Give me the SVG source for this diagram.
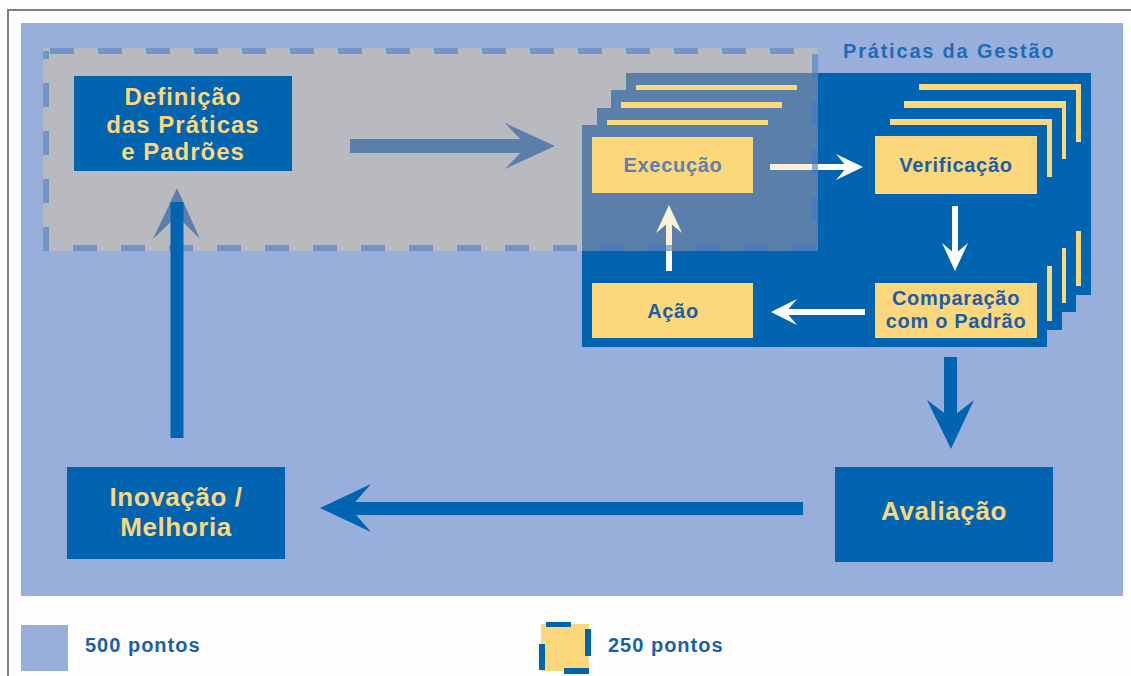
<svg xmlns="http://www.w3.org/2000/svg" width="1131" height="676" viewBox="0 0 1131 676">
  <style>
    .panel { fill: #98afdb; }
    .dark { fill: #0064b0; }
    .ybox { fill: #fcd77b; }
    .warrow { fill: #ffffff; }
    .carrow { fill: #fbf1d6; }
    .barrow { fill: #0064b0; }
    .sarrow { fill: #5b7fab; }
    .ylabel { font-family: "Liberation Sans", Arial, sans-serif; font-weight: bold; fill: #fcd77b; text-anchor: middle; }
    .blabel { font-family: "Liberation Sans", Arial, sans-serif; font-weight: bold; fill: #1b5ea9; text-anchor: middle; font-size: 20px; letter-spacing: 0.7px; }
    .legend { font-family: "Liberation Sans", Arial, sans-serif; font-weight: bold; fill: #1b5ea9; font-size: 20px; letter-spacing: 1px; }
  </style>
  <defs>
    <!-- one card of the stacked management-practice cycle; card colour comes from the <use> -->
    <g id="card">
      <rect x="0" y="0" width="465" height="222"/>
      <rect class="ybox" x="10" y="12" width="161" height="56"/>
      <rect class="ybox" x="293" y="11" width="162" height="58"/>
      <rect class="ybox" x="293" y="158" width="162" height="55"/>
      <rect class="ybox" x="10" y="158" width="161" height="55"/>
    </g>
    <clipPath id="area250">
      <rect x="43" y="48" width="775" height="203"/>
    </clipPath>
  </defs>

  <!-- page background and frame -->
  <rect x="0" y="0" width="1131" height="676" fill="#fdfdfd"/>
  <path d="M8,676 V10 H1131" fill="none" stroke="#808080" stroke-width="2"/>

  <!-- 500-point panel -->
  <rect class="panel" x="21" y="23" width="1102" height="573"/>

  <!-- 250-point field -->
  <rect x="43" y="48" width="775" height="203" fill="#b9babf"/>

  <!-- stacked cards, back to front -->
  <g id="pratica-cards" fill="#0064b0">
    <use href="#card" x="626" y="73"/>
    <use href="#card" x="611" y="90"/>
    <use href="#card" x="597" y="108"/>
    <use href="#card" x="582" y="125"/>
  </g>

  <g id="connectors-inner">
    <!-- Execução -> Verificação -->
    <rect class="warrow" x="770" y="164" width="82" height="6"/>
    <path class="warrow" d="M863,167 L836,154 L847,167 L836,180 Z"/>
    <!-- Verificação -> Comparação -->
    <rect class="warrow" x="952" y="206" width="6" height="53"/>
    <path class="warrow" d="M955,271 L942,243 L955,254 L968,243 Z"/>
    <!-- Comparação -> Ação -->
    <rect class="warrow" x="781" y="309" width="84" height="6"/>
    <path class="warrow" d="M771,312 L797,299 L786,312 L797,325 Z"/>
    <!-- Ação -> Execução -->
    <rect class="warrow" x="666" y="217" width="6" height="54"/>
    <path class="warrow" d="M669,205 L656,233 L669,222 L682,233 Z"/>
  </g>

  <!-- part of the cards lying inside the 250-point field, in its muted tones -->
  <g id="cards-in-area" clip-path="url(#area250)">
    <g fill="#5b7fab">
      <use href="#card" x="626" y="73"/>
      <use href="#card" x="611" y="90"/>
      <use href="#card" x="597" y="108"/>
      <use href="#card" x="582" y="125"/>
    </g>
    <rect class="carrow" x="770" y="164" width="82" height="6"/>
    <rect class="carrow" x="666" y="217" width="6" height="54"/>
    <path class="carrow" d="M669,205 L656,233 L669,222 L682,233 Z"/>
  </g>

  <g id="execucao">
    <text class="blabel" x="673" y="172" style="fill:#5d80ad">Execução</text>
  </g>
  <g id="verificacao">
    <text class="blabel" x="956" y="172">Verificação</text>
  </g>
  <g id="comparacao">
    <text class="blabel" x="956" y="305">Comparação</text>
    <text class="blabel" x="956" y="328">com o Padrão</text>
  </g>
  <g id="acao">
    <text class="blabel" x="673" y="318">Ação</text>
  </g>

  <g id="connectors-area">
    <!-- Definição -> cycle -->
    <rect class="sarrow" x="350" y="139" width="185" height="14"/>
    <path class="sarrow" d="M555,146 L505,123 L527,146 L505,169 Z"/>
    <!-- head of Inovação -> Definição -->
    <path class="sarrow" d="M177,188 L153,239 L177,216 L200,239 Z"/>
  </g>

  <!-- dashed border of the 250-point field -->
  <rect x="46" y="51" width="769" height="197" fill="none" stroke="#3a76cc" stroke-opacity="0.55" stroke-width="6" stroke-dasharray="24 24" stroke-dashoffset="-4"/>

  <g id="definicao">
    <rect class="dark" x="74" y="76" width="218" height="95"/>
    <text class="ylabel" x="183" y="105" font-size="24" letter-spacing="1">Definição</text>
    <text class="ylabel" x="183" y="133" font-size="24" letter-spacing="1">das Práticas</text>
    <text class="ylabel" x="183" y="160" font-size="24" letter-spacing="1">e Padrões</text>
  </g>

  <g id="connectors">
    <!-- shaft of Inovação -> Definição -->
    <rect class="barrow" x="170.5" y="202" width="13" height="236"/>
    <!-- cycle -> Avaliação -->
    <rect class="barrow" x="944" y="357" width="13" height="68"/>
    <path class="barrow" d="M951,449 L927,400 L951,418 L974,400 Z"/>
    <!-- Avaliação -> Inovação -->
    <rect class="barrow" x="343" y="502" width="460" height="13"/>
    <path class="barrow" d="M320,508 L371,484 L350,508 L371,532 Z"/>
  </g>

  <g id="titulo">
    <text x="843" y="58" font-family="Liberation Sans, Arial, sans-serif" font-weight="bold" font-size="20" letter-spacing="1.8" fill="#1f6cb5">Práticas da Gestão</text>
  </g>

  <g id="avaliacao">
    <rect class="dark" x="835" y="467" width="218" height="95"/>
    <text class="ylabel" x="944" y="520" font-size="26" letter-spacing="0.6">Avaliação</text>
  </g>

  <g id="inovacao">
    <rect class="dark" x="67" y="467" width="218" height="92"/>
    <text class="ylabel" x="176" y="506" font-size="26" letter-spacing="0.6">Inovação /</text>
    <text class="ylabel" x="176" y="536" font-size="26" letter-spacing="0.6">Melhoria</text>
  </g>

  <g id="legenda">
    <rect class="panel" x="21" y="625" width="47" height="46"/>
    <text class="legend" x="85" y="652">500 pontos</text>
    <rect class="ybox" x="541" y="624" width="48" height="47"/>
    <rect class="dark" x="546" y="622" width="25" height="5"/>
    <rect class="dark" x="585" y="629" width="6" height="27"/>
    <rect class="dark" x="564" y="668" width="25" height="6"/>
    <rect class="dark" x="539" y="644" width="6" height="26"/>
    <text class="legend" x="608" y="652">250 pontos</text>
  </g>
</svg>
